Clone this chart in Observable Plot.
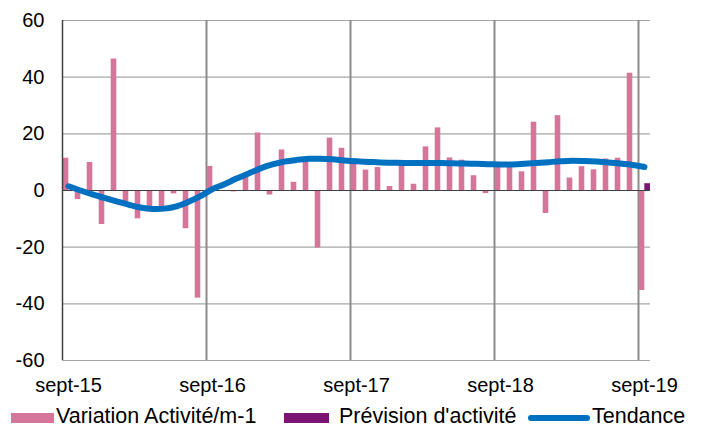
<!DOCTYPE html>
<html><head><meta charset="utf-8">
<script src="https://cdn.jsdelivr.net/npm/d3@7"></script>
<script src="https://cdn.jsdelivr.net/npm/@observablehq/plot@0.6"></script>
<style>
body{margin:0;background:#fff;font-family:"Liberation Sans",Arial,sans-serif;}
#chart svg{display:block;}
#legend{position:relative;width:702px;height:29px;font-size:21.5px;color:#000;}
#legend .sw{position:absolute;}
#legend .tx{position:absolute;top:7px;line-height:22px;white-space:nowrap;}
</style></head><body>
<div id="chart"></div>
<div id="legend"></div>
<script>
const months = ["sept-15","oct-15","nov-15","déc-15","janv-16","févr-16","mars-16","avr-16","mai-16","juin-16","juil-16","août-16",
"sept-16","oct-16","nov-16","déc-16","janv-17","févr-17","mars-17","avr-17","mai-17","juin-17","juil-17","août-17",
"sept-17","oct-17","nov-17","déc-17","janv-18","févr-18","mars-18","avr-18","mai-18","juin-18","juil-18","août-18",
"sept-18","oct-18","nov-18","déc-18","janv-19","févr-19","mars-19","avr-19","mai-19","juin-19","juil-19","août-19",
"sept-19"];
const variation = [11.4,-3.2,9.9,-12,46.4,-4,-10,-7,-6,-1.2,-13.5,-38,
8.5,0,-0.5,5.9,20.3,-1.6,14.3,2.9,10.3,-20.3,18.5,14.9,
10.5,7.2,8.1,1.4,9,2.2,15.4,22.1,11.5,10.7,5.2,-1.1,
8.5,9,6.6,24.1,-8.1,26.4,4.4,8.4,7.3,11.1,11.4,41.4,
-35.3];
const forecast = Array(48).fill(null).concat([2.4]);
const trend = [1.5,0,-1.4,-2.6,-3.8,-5,-6,-6.5,-6.4,-5.6,-4,-2,
0.5,2.2,4.2,6,7.8,9.2,10.2,10.8,11.2,11.2,11,10.6,
10.3,10.1,9.9,9.8,9.7,9.7,9.7,9.7,9.6,9.5,9.4,9.3,
9.2,9.2,9.4,9.7,10,10.3,10.5,10.4,10.2,9.9,9.5,9.0,
8.3];
const yTicks = [-60,-40,-20,0,20,40,60];
const xTickLabels = ["sept-15","sept-16","sept-17","sept-18","sept-19"];
const seriesNames = ["Variation Activité/m-1","Prévision d'activité","Tendance"];
const colors = ["#D5759A","#7B1574","#0070C0"];

const rows = months.map((m,i)=>({i, m, v: variation[i], f: forecast[i], t: trend[i]}));
const tickIdx = xTickLabels.map(l => months.indexOf(l));

const chart = Plot.plot({
  width: 702, height: 398,
  marginLeft: 62, marginRight: 52, marginTop: 20, marginBottom: 38,
  style: {fontFamily: "Liberation Sans, Arial, sans-serif", fontSize: "20px", color: "#000", background: "#fff"},
  x: {domain: [0, months.length], axis: null},
  y: {domain: [-60, 60], axis: null},
  marks: [
    Plot.ruleY(yTicks.filter(d => d !== 0), {stroke: "#a6a6a6", strokeWidth: 1.2}),
    Plot.ruleX(tickIdx.slice(1), {stroke: "#8c8c8c", strokeWidth: 2}),
    Plot.rect(rows, {x1: "i", x2: d => d.i + 1, y1: 0, y2: "v", fill: colors[0], insetLeft: 0.7, insetRight: 5.7}),
    Plot.rect(rows.filter(d => d.f != null), {x1: "i", x2: d => d.i + 1, y1: 0, y2: "f", fill: colors[1], insetLeft: 6.3, insetRight: 0}),
    Plot.ruleY([0], {stroke: "#404040", strokeWidth: 1.2}),
    Plot.ruleX([0], {stroke: "#404040", strokeWidth: 1.5}),
    Plot.line(rows, {x: d => d.i + 0.5, y: "t", stroke: colors[2], strokeWidth: 6, curve: "catmull-rom", strokeLinecap: "round"}),
    Plot.axisY(yTicks, {label: null, tickSize: 0, tickPadding: 18, fontSize: 20, tickFormat: d => d}),
    Plot.axisX(tickIdx.map(i => i + 0.5), {label: null, tickSize: 0, tickPadding: 17, fontSize: 20, tickFormat: d => months[d - 0.5]})
  ]
});
document.getElementById("chart").appendChild(chart);

const legend = document.getElementById("legend");
const items = [
  {sw: {left: 11, top: 15, width: 43, height: 10, background: colors[0]}, tx: 56},
  {sw: {left: 284, top: 15, width: 45, height: 10, background: colors[1]}, tx: 339},
  {sw: {left: 528, top: 17, width: 62, height: 6, background: colors[2], borderRadius: "3px"}, tx: 592}
];
items.forEach((it, k) => {
  const s = document.createElement("div");
  s.className = "sw";
  Object.entries(it.sw).forEach(([key, val]) => s.style[key] = typeof val === "number" ? val + "px" : val);
  legend.appendChild(s);
  const t = document.createElement("div");
  t.className = "tx";
  t.style.left = it.tx + "px";
  t.textContent = seriesNames[k];
  legend.appendChild(t);
});
</script>
</body></html>
